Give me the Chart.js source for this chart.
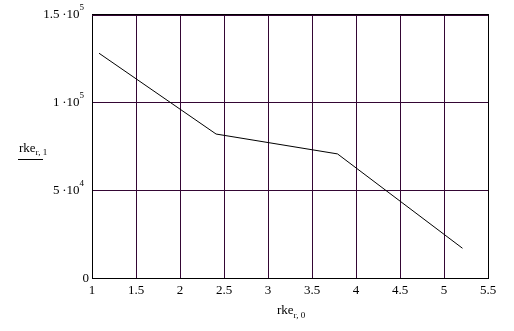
<!DOCTYPE html>
<html>
<head>
<meta charset="utf-8">
<script src="https://cdn.jsdelivr.net/npm/chart.js@4/dist/chart.umd.min.js"></script>
<style>
html,body{margin:0;padding:0;background:#fff;}
#wrap{width:514px;height:331px;position:relative;}
</style>
</head>
<body>
<div id="wrap"><canvas id="c" width="514" height="331"></canvas></div>
<script>
const xValues = [1.08, 2.41, 3.79, 5.21];
const yValues = [127700, 81800, 70500, 16900];
const xTicks = [1, 1.5, 2, 2.5, 3, 3.5, 4, 4.5, 5, 5.5];
const yTickValues = [0, 50000, 100000, 150000];
const yTickMain = ["0", "5\u2009\u00b710", "1\u2009\u00b710", "1.5\u2009\u00b710"];
const yTickSup = ["", "4", "5", "5"];
const xTitle = "rke";
const xTitleSub = "r, 0";
const yTitle = "rke";
const yTitleSub = "r, 1";

const SERIF = '"Liberation Serif", "Times New Roman", serif';
const GRID = '#340634';

const overlay = {
  id: 'overlay',
  afterDraw(chart) {
    const ctx = chart.ctx;
    const ca = chart.chartArea;
    const ys = chart.scales.y;
    ctx.save();
    // frame
    ctx.strokeStyle = '#000';
    ctx.lineWidth = 1;
    ctx.strokeRect(Math.round(ca.left) + 0.5, Math.round(ca.top) + 0.5,
                   Math.round(ca.right - ca.left), Math.round(ca.bottom - ca.top));
    ctx.beginPath();
    ctx.moveTo(ca.left, Math.round(ca.top) + 1.5);
    ctx.lineTo(ca.right, Math.round(ca.top) + 1.5);
    ctx.strokeStyle = GRID;
    ctx.stroke();
    // y tick labels with superscripts
    ctx.fillStyle = '#000';
    ctx.textBaseline = 'middle';
    for (let i = 0; i < yTickValues.length; i++) {
      const py = ys.getPixelForValue(yTickValues[i]);
      if (yTickSup[i] === "") {
        ctx.font = '13px ' + SERIF;
        ctx.textAlign = 'right';
        ctx.fillText(yTickMain[i], 89, py + 1);
      } else {
        ctx.font = '9px ' + SERIF;
        const sw = ctx.measureText(yTickSup[i]).width;
        ctx.textAlign = 'left';
        ctx.fillText(yTickSup[i], 84 - sw, py - 6);
        ctx.font = '13px ' + SERIF;
        ctx.textAlign = 'right';
        ctx.fillText(yTickMain[i], 84 - sw, py + 1);
      }
    }
    // y title
    ctx.textAlign = 'left';
    ctx.textBaseline = 'alphabetic';
    ctx.font = '13px ' + SERIF;
    ctx.fillText(yTitle, 19, 152);
    let w = ctx.measureText(yTitle).width;
    ctx.font = '9px ' + SERIF;
    ctx.fillText(yTitleSub, 19 + w, 155);
    ctx.beginPath();
    ctx.moveTo(18, 159.5);
    ctx.lineTo(43, 159.5);
    ctx.strokeStyle = '#000';
    ctx.stroke();
    // x title
    ctx.font = '13px ' + SERIF;
    ctx.fillText(xTitle, 277, 314);
    w = ctx.measureText(xTitle).width;
    ctx.font = '9px ' + SERIF;
    ctx.fillText(xTitleSub, 277 + w, 318);
    ctx.restore();
  }
};

new Chart(document.getElementById('c'), {
  type: 'scatter',
  data: {
    datasets: [{
      data: xValues.map((x, i) => ({x: x, y: yValues[i]})),
      showLine: true,
      borderColor: '#000',
      borderWidth: 1,
      pointRadius: 0,
      tension: 0,
      fill: false
    }]
  },
  options: {
    responsive: false,
    animation: false,
    devicePixelRatio: 1,
    layout: { padding: { left: 0, right: 26, top: 14, bottom: 0 } },
    plugins: { legend: { display: false }, tooltip: { enabled: false } },
    scales: {
      x: {
        type: 'linear',
        min: 1, max: 5.5,
        afterFit(s) { s.height = 53; },
        afterBuildTicks(s) { s.ticks = xTicks.map(v => ({value: v})); },
        grid: { color: GRID, lineWidth: 1, drawTicks: false },
        border: { display: false },
        ticks: {
          color: '#000',
          padding: 5,
          maxRotation: 0,
          autoSkip: false,
          font: { family: SERIF, size: 13 },
          callback: v => String(v)
        }
      },
      y: {
        type: 'linear',
        min: 0, max: 150000,
        afterFit(s) { s.width = 92; },
        afterBuildTicks(s) { s.ticks = yTickValues.map(v => ({value: v})); },
        grid: { color: GRID, lineWidth: 1, drawTicks: false },
        border: { display: false },
        ticks: { display: false }
      }
    }
  },
  plugins: [overlay]
});
</script>
</body>
</html>
